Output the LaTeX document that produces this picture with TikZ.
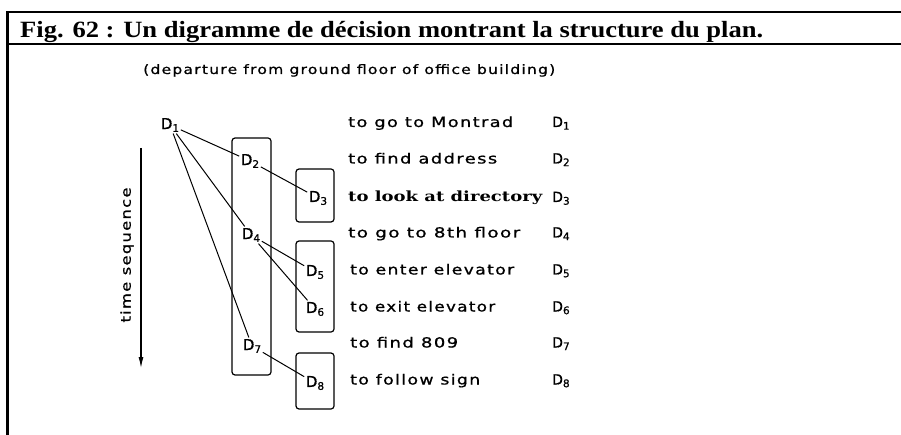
\documentclass[tikz,border=0pt]{standalone}
\usepackage{fontspec}
\usepackage{graphicx}
\usetikzlibrary{arrows.meta}
\newfontfamily\titlefont{Liberation Serif}
\newfontfamily\bserif{DejaVu Serif}
\newfontfamily\lett{DejaVu Sans}[LetterSpace=8,FakeBold=0.8]
\newcommand\fitw[2]{\resizebox{#1}{\height}{#2}}
\newcommand\Dsub[1]{D\raisebox{-0.35ex}{\fontsize{10.5}{12}\selectfont #1}}
\begin{document}
\begin{tikzpicture}[x=1pt,y=-1pt,
  lab/.style={font=\lett\fontsize{14}{16}\selectfont, inner sep=0pt, anchor=base west},
  dn/.style={font=\lett\fontsize{15}{16}\selectfont, inner sep=1.5pt},
  grp/.style={draw, line width=1.2pt, rounded corners=3pt},
  link/.style={line width=1pt},
  frameline/.style={line width=2.5pt}]
\useasboundingbox (0,0) rectangle (901,435);
% frame
\coordinate (ftl) at (7.5,12);
\coordinate (ftr) at (901,12);
\coordinate (fhl) at (7.5,44);
\coordinate (fhr) at (901,44);
\coordinate (fbl) at (7.5,435);
\draw[frameline] (ftr) -- (ftl) -- (fbl);
\draw[frameline] (fhl) -- (fhr);
\node[anchor=base west, inner sep=0pt] (title) at (20,37.5)
  {\fitw{743pt}{\titlefont\fontsize{23.3}{26}\selectfont\bfseries Fig. 62 : Un digramme de décision montrant la structure du plan.}};
\node[anchor=base west, inner sep=0pt, font=\lett\fontsize{13}{15}\selectfont] (sub) at (143,74)
  {\fitw{412pt}{(departure from ground floor of office building)}};
% right column
\node[lab] (t1) at (348,127) {\fitw{165pt}{to go to Montrad}};
\node[lab] (t2) at (348,163.5) {\fitw{149pt}{to find address}};
\node[anchor=base west, inner sep=0pt] (t3) at (348,202) {\fitw{194pt}{\bserif\bfseries\fontsize{14}{18}\selectfont to look at directory}};
\node[lab] (t4) at (348,237.5) {\fitw{172pt}{to go to 8th floor}};
\node[lab] (t5) at (350,274.5) {\fitw{164pt}{to enter elevator}};
\node[lab] (t6) at (350,311.5) {\fitw{145pt}{to exit elevator}};
\node[lab] (t7) at (350,347.5) {\fitw{108pt}{to find 809}};
\node[lab] (t8) at (350,384.5) {\fitw{130pt}{to follow sign}};
\node[lab] (r1) at (552,127) {\Dsub{1}};
\node[lab] (r2) at (552,163.5) {\Dsub{2}};
\node[lab] (r3) at (552,202) {\Dsub{3}};
\node[lab] (r4) at (552,237.5) {\Dsub{4}};
\node[lab] (r5) at (552,274.5) {\Dsub{5}};
\node[lab] (r6) at (552,311.5) {\Dsub{6}};
\node[lab] (r7) at (552,347.5) {\Dsub{7}};
\node[lab] (r8) at (552,384.5) {\Dsub{8}};
% group boxes
\node[grp, minimum width=39pt, minimum height=237pt, inner sep=0pt] (g1) at (251.5,256.5) {};
\node[grp, minimum width=38pt, minimum height=53pt, inner sep=0pt] (g2) at (315,195.5) {};
\node[grp, minimum width=38pt, minimum height=91pt, inner sep=0pt] (g3) at (315,286.5) {};
\node[grp, minimum width=38pt, minimum height=56pt, inner sep=0pt] (g4) at (315,381) {};
% decision nodes
\node[dn] (d1) at (170,125) {\Dsub{1}};
\node[dn] (d2) at (250,161) {\Dsub{2}};
\node[dn] (d3) at (318,198) {\Dsub{3}};
\node[dn] (d4) at (251,235) {\Dsub{4}};
\node[dn] (d5) at (315,272) {\Dsub{5}};
\node[dn] (d6) at (315,309) {\Dsub{6}};
\node[dn] (d7) at (252,346) {\Dsub{7}};
\node[dn] (d8) at (315,383) {\Dsub{8}};
\draw[link] (d1) -- (d2);
\draw[link] (d1) -- (d4);
\draw[link] (d1) -- (d7);
\draw[link] (d2) -- (d3);
\draw[link] (d4) -- (d5);
\draw[link] (d4) -- (d6);
\draw[link] (d7) -- (d8);
% time sequence arrow
\coordinate (ts1) at (141,148);
\coordinate (ts2) at (141,368);
\draw[line width=1.1pt, -{Latex[length=11pt,width=5pt]}] (ts1) -- (ts2);
\node[rotate=90, inner sep=0pt, font=\lett\fontsize{13.5}{15}\selectfont] (tl) at (127,255) {\fitw{135pt}{time sequence}};
\end{tikzpicture}
\end{document}
